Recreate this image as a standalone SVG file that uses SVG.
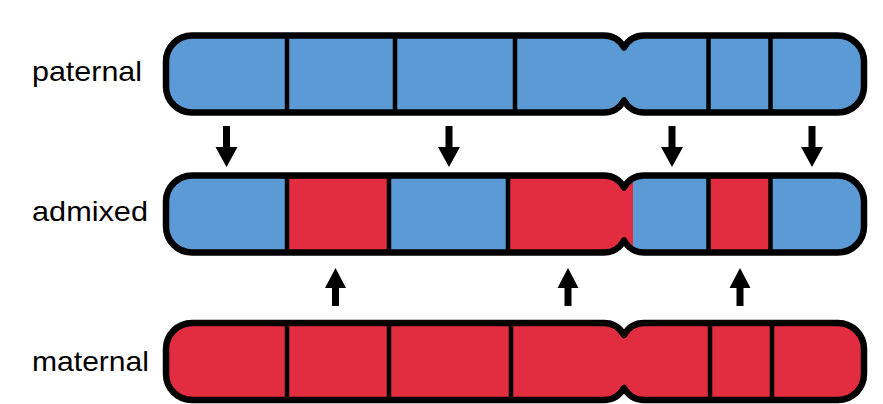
<svg xmlns="http://www.w3.org/2000/svg" xmlns:xlink="http://www.w3.org/1999/xlink" width="883" height="404" viewBox="0 0 883 404">
<style>
.lbl{font-family:"Liberation Sans",Arial,sans-serif;font-size:28px;fill:#000}
.blue{fill:#5B9AD5}
.red{fill:#E22C3F}
.div{stroke:#000;stroke-width:4.5}
.outline{fill:none;stroke:#000;stroke-width:6.5;stroke-linejoin:round}
.arrow{fill:#000}
</style>
<defs>
<path id="chr" d="M192 0 L604 0 C614 0 620 5 624 12 C628 5 634 0 644 0 L838 0 A26 26 0 0 1 864 26 L864 51 A26 26 0 0 1 838 77 L644 77 C634 77 628 72 624 65 C620 72 614 77 604 77 L192 77 A26 26 0 0 1 166 51 L166 26 A26 26 0 0 1 192 0 Z"/>
<clipPath id="clipChr"><use xlink:href="#chr"/></clipPath>
</defs>

<g id="paternal">
<text class="lbl" x="32" y="81" textLength="110" lengthAdjust="spacingAndGlyphs">paternal</text>
<g transform="translate(0,35.5)">
<g clip-path="url(#clipChr)">
<rect class="blue" x="160" y="-5" width="710" height="90"/>
</g>
<line class="div" x1="287" y1="0" x2="287" y2="77"/>
<line class="div" x1="395" y1="0" x2="395" y2="77"/>
<line class="div" x1="515" y1="0" x2="515" y2="77"/>
<line class="div" x1="708.5" y1="0" x2="708.5" y2="77"/>
<line class="div" x1="770.5" y1="0" x2="770.5" y2="77"/>
<use class="outline" xlink:href="#chr"/>
</g>
</g>

<g id="admixed">
<text class="lbl" x="32" y="221" textLength="116" lengthAdjust="spacingAndGlyphs">admixed</text>
<g transform="translate(0,175.5)">
<g clip-path="url(#clipChr)">
<rect class="blue" x="160" y="-5" width="710" height="90"/>
<rect class="red" x="287" y="-5" width="102" height="90"/>
<rect class="red" x="508" y="-5" width="125" height="90"/>
<rect class="red" x="708.5" y="-5" width="62" height="90"/>
</g>
<line class="div" x1="287" y1="0" x2="287" y2="77"/>
<line class="div" x1="389" y1="0" x2="389" y2="77"/>
<line class="div" x1="508" y1="0" x2="508" y2="77"/>
<line class="div" x1="708.5" y1="0" x2="708.5" y2="77"/>
<line class="div" x1="770.5" y1="0" x2="770.5" y2="77"/>
<use class="outline" xlink:href="#chr"/>
</g>
</g>

<g id="maternal">
<text class="lbl" x="32" y="371" textLength="117" lengthAdjust="spacingAndGlyphs">maternal</text>
<g transform="translate(0,323)">
<g clip-path="url(#clipChr)">
<rect class="red" x="160" y="-5" width="710" height="90"/>
</g>
<line class="div" x1="287" y1="0" x2="287" y2="77"/>
<line class="div" x1="389" y1="0" x2="389" y2="77"/>
<line class="div" x1="511" y1="0" x2="511" y2="77"/>
<line class="div" x1="710" y1="0" x2="710" y2="77"/>
<line class="div" x1="772" y1="0" x2="772" y2="77"/>
<use class="outline" xlink:href="#chr"/>
</g>
</g>

<g id="connectors">
<polygon class="arrow" transform="translate(226.5,0)" points="-3.5,126 3.5,126 3.5,147 11,147 0,167 -11,147 -3.5,147"/>
<polygon class="arrow" transform="translate(449,0)" points="-3.5,126 3.5,126 3.5,147 11,147 0,167 -11,147 -3.5,147"/>
<polygon class="arrow" transform="translate(672,0)" points="-3.5,126 3.5,126 3.5,147 11,147 0,167 -11,147 -3.5,147"/>
<polygon class="arrow" transform="translate(812,0)" points="-3.5,126 3.5,126 3.5,147 11,147 0,167 -11,147 -3.5,147"/>
<polygon class="arrow" transform="translate(335.5,0)" points="-3.5,306 3.5,306 3.5,288 10.5,288 0,268 -10.5,288 -3.5,288"/>
<polygon class="arrow" transform="translate(568,0)" points="-3.5,306 3.5,306 3.5,288 10.5,288 0,268 -10.5,288 -3.5,288"/>
<polygon class="arrow" transform="translate(740,0)" points="-3.5,306 3.5,306 3.5,288 10.5,288 0,268 -10.5,288 -3.5,288"/>
</g>
</svg>
